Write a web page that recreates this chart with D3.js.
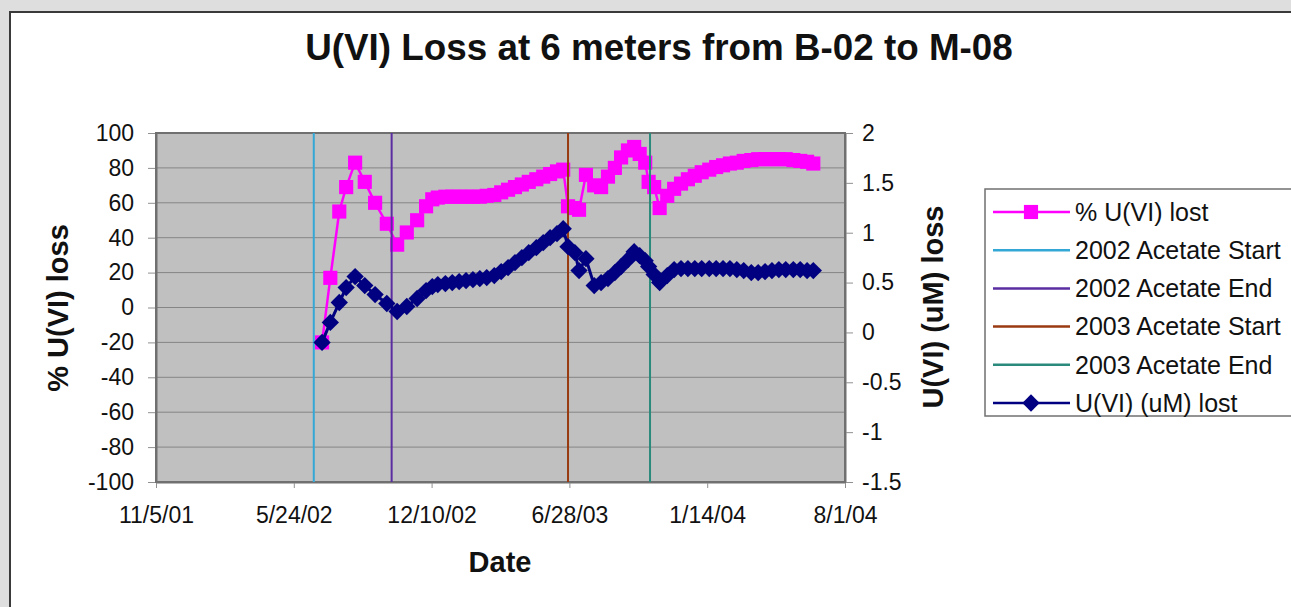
<!DOCTYPE html>
<html>
<head>
<meta charset="utf-8">
<script src="https://cdn.jsdelivr.net/npm/d3@7"></script>
<style>
  body { margin: 0; background: #dedede; }
  svg { display: block; font-family: Arial, "Liberation Sans", sans-serif; }
</style>
</head>
<body>
<script>
const w = 1291;
const h = 607;

// sample dates (m/d/yy)
const dates = [
  "7/4/02", "7/16/02", "7/29/02", "8/8/02", "8/21/02", "9/4/02", "9/19/02", "10/6/02",
  "10/21/02", "11/4/02", "11/19/02", "12/2/02", "12/11/02", "12/19/02", "12/30/02",
  "1/9/03", "1/19/03", "1/29/03", "2/8/03", "2/18/03", "2/28/03", "3/11/03", "3/21/03",
  "3/31/03", "4/10/03", "4/20/03", "4/30/03", "5/11/03", "5/21/03", "5/31/03", "6/10/03",
  "6/19/03", "6/26/03", "7/6/03", "7/12/03", "7/22/03", "8/3/03", "8/13/03", "8/23/03",
  "9/2/03", "9/11/03", "9/21/03", "9/30/03", "10/8/03", "10/16/03", "10/21/03", "10/29/03",
  "11/6/03", "11/17/03", "11/27/03", "12/7/03", "12/17/03", "12/27/03", "1/6/04", "1/17/04",
  "1/27/04", "2/6/04", "2/16/04", "2/26/04", "3/7/04", "3/18/04", "3/28/04", "4/7/04",
  "4/17/04", "4/27/04", "5/7/04", "5/18/04", "5/28/04", "6/7/04", "6/16/04"
];

// % U(VI) lost (left axis)
const pctLost = [
  -20, 17, 55, 69, 83, 72, 60, 48,
  36, 43, 50, 58, 62, 63, 63.5,
  63.5, 63.5, 63.5, 63.5, 63.5, 64, 64.5, 66,
  67.5, 69, 70.5, 72, 73.5, 75, 76.5, 78,
  79, 58, 57, 56, 76, 70, 69, 75,
  80, 86, 90, 92, 88, 83, 72, 69,
  57, 64, 68, 71, 73.5, 75.5, 77.5, 79,
  80.5, 81.5, 82.5, 83, 84, 84.5, 85, 85,
  85, 85, 85, 84.5, 84, 83.5, 82.5
];

// U(VI) (uM) lost (right axis)
const umLost = [
  -0.1, 0.1, 0.3, 0.45, 0.56, 0.47, 0.38, 0.29,
  0.21, 0.26, 0.34, 0.42, 0.46, 0.48, 0.49,
  0.5, 0.51, 0.52, 0.53, 0.54, 0.55, 0.57, 0.61,
  0.65, 0.7, 0.75, 0.8, 0.85, 0.9, 0.95, 0.99,
  1.04, 0.86, 0.8, 0.62, 0.74, 0.47, 0.5, 0.54,
  0.6, 0.66, 0.73, 0.81, 0.77, 0.72, 0.66, 0.58,
  0.5, 0.57, 0.63, 0.64, 0.64, 0.64, 0.64, 0.64,
  0.64, 0.64, 0.64, 0.63, 0.62, 0.6, 0.6, 0.61,
  0.62, 0.63, 0.63, 0.63, 0.63, 0.62, 0.62
];

const eventNames = ["2002 Acetate Start", "2002 Acetate End", "2003 Acetate Start", "2003 Acetate End"];
const eventDates = ["6/22/02", "10/13/02", "6/26/03", "10/23/03"];

const xTickLabels = ["11/5/01", "5/24/02", "12/10/02", "6/28/03", "1/14/04", "8/1/04"];
const leftTicks = [-100, -80, -60, -40, -20, 0, 20, 40, 60, 80, 100];
const rightTicks = [-1.5, -1, -0.5, 0, 0.5, 1, 1.5, 2];

const eventColors = ["#33a8d6", "#5a2da0", "#993a10", "#2a8a7c"];
const pinkColor = "#ff00ff";
const navyColor = "#000080";

const parse = d3.utcParse("%m/%d/%y");

const plot = { left: 156, right: 845, top: 133, bottom: 482 };

const svg = d3.select("body").append("svg")
  .attr("width", w)
  .attr("height", h);

// chart area
svg.append("rect").attr("width", w).attr("height", h).attr("fill", "#dedede");
svg.append("rect")
  .attr("x", 10).attr("y", 12)
  .attr("width", w + 20).attr("height", h + 20)
  .attr("fill", "#ffffff")
  .attr("stroke", "#3a3a3a")
  .attr("stroke-width", 2);

const x = d3.scaleUtc()
  .domain([parse(xTickLabels[0]), parse(xTickLabels[xTickLabels.length - 1])])
  .range([plot.left, plot.right]);
const yL = d3.scaleLinear().domain([-100, 100]).range([plot.bottom, plot.top]);
const yR = d3.scaleLinear().domain([-1.5, 2]).range([plot.bottom, plot.top]);

// plot background
svg.append("rect")
  .attr("x", plot.left).attr("y", plot.top)
  .attr("width", plot.right - plot.left).attr("height", plot.bottom - plot.top)
  .attr("fill", "#c0c0c0");

// gridlines
svg.append("g").selectAll("line")
  .data(leftTicks)
  .join("line")
  .attr("x1", plot.left).attr("x2", plot.right)
  .attr("y1", d => yL(d)).attr("y2", d => yL(d))
  .attr("stroke", "#858585")
  .attr("stroke-width", 1);

// axes
const xAxis = d3.axisBottom(x)
  .tickValues(xTickLabels.map(parse))
  .tickFormat((d, i) => xTickLabels[i])
  .tickSize(6).tickSizeOuter(0).tickPadding(19);
const leftAxis = d3.axisLeft(yL)
  .tickValues(leftTicks).tickFormat(String)
  .tickSize(8).tickSizeOuter(0).tickPadding(14);
const rightAxis = d3.axisRight(yR)
  .tickValues(rightTicks).tickFormat(String)
  .tickSize(8).tickSizeOuter(0).tickPadding(9);

const gx = svg.append("g").attr("transform", "translate(0," + plot.bottom + ")").call(xAxis);
const gl = svg.append("g").attr("transform", "translate(" + plot.left + ",0)").call(leftAxis);
const gr = svg.append("g").attr("transform", "translate(" + plot.right + ",0)").call(rightAxis);

[gx, gl, gr].forEach(g => {
  g.select(".domain").attr("stroke", "#707070").attr("stroke-width", 2);
  g.selectAll(".tick line").attr("stroke", "#909090");
  g.selectAll(".tick text")
    .attr("fill", "#111")
    .attr("font-size", 23)
    .attr("font-family", "Arial, 'Liberation Sans', sans-serif");
});

// plot border
svg.append("rect")
  .attr("x", plot.left).attr("y", plot.top)
  .attr("width", plot.right - plot.left).attr("height", plot.bottom - plot.top)
  .attr("fill", "none")
  .attr("stroke", "#707070")
  .attr("stroke-width", 2);

const pinkData = dates.map((d, i) => ({ date: parse(d), v: pctLost[i] }));
const navyData = dates.map((d, i) => ({ date: parse(d), v: umLost[i] }));

// % U(VI) lost
svg.append("path")
  .datum(pinkData)
  .attr("fill", "none")
  .attr("stroke", pinkColor)
  .attr("stroke-width", 2.5)
  .attr("d", d3.line().x(d => x(d.date)).y(d => yL(d.v)));

svg.append("g").selectAll("path")
  .data(pinkData)
  .join("path")
  .attr("transform", d => "translate(" + x(d.date) + "," + yL(d.v) + ")")
  .attr("d", d3.symbol(d3.symbolSquare, 200))
  .attr("fill", pinkColor);

// acetate start/end lines
svg.append("g").selectAll("line")
  .data(eventDates)
  .join("line")
  .attr("x1", d => x(parse(d))).attr("x2", d => x(parse(d)))
  .attr("y1", yL(-100)).attr("y2", yL(100))
  .attr("stroke", (d, i) => eventColors[i])
  .attr("stroke-width", 2);

// U(VI) (uM) lost
svg.append("path")
  .datum(navyData)
  .attr("fill", "none")
  .attr("stroke", navyColor)
  .attr("stroke-width", 3)
  .attr("d", d3.line().x(d => x(d.date)).y(d => yR(d.v)));

svg.append("g").selectAll("path")
  .data(navyData)
  .join("path")
  .attr("transform", d => "translate(" + x(d.date) + "," + yR(d.v) + ") rotate(45)")
  .attr("d", d3.symbol(d3.symbolSquare, 150))
  .attr("fill", navyColor);

// titles
svg.append("text")
  .attr("x", 659).attr("y", 47)
  .attr("dy", "0.35em")
  .attr("text-anchor", "middle")
  .attr("font-size", 36.8)
  .attr("font-weight", "bold")
  .attr("fill", "#111")
  .text("U(VI) Loss at 6 meters from B-02 to M-08");

svg.append("text")
  .attr("x", 500).attr("y", 562)
  .attr("dy", "0.35em")
  .attr("text-anchor", "middle")
  .attr("font-size", 29)
  .attr("font-weight", "bold")
  .attr("fill", "#111")
  .text("Date");

svg.append("text")
  .attr("transform", "translate(58,308) rotate(-90)")
  .attr("dy", "0.35em")
  .attr("text-anchor", "middle")
  .attr("font-size", 29)
  .attr("font-weight", "bold")
  .attr("fill", "#111")
  .text("% U(VI) loss");

svg.append("text")
  .attr("transform", "translate(933,307) rotate(-90)")
  .attr("dy", "0.35em")
  .attr("text-anchor", "middle")
  .attr("font-size", 29)
  .attr("font-weight", "bold")
  .attr("fill", "#111")
  .text("U(VI) (uM) loss");

// legend
const legendItems = [
  { name: "% U(VI) lost", color: pinkColor, marker: "square" },
  { name: eventNames[0], color: eventColors[0] },
  { name: eventNames[1], color: eventColors[1] },
  { name: eventNames[2], color: eventColors[2] },
  { name: eventNames[3], color: eventColors[3] },
  { name: "U(VI) (uM) lost", color: navyColor, marker: "diamond" }
];

const legend = svg.append("g");
legend.append("rect")
  .attr("x", 985).attr("y", 189)
  .attr("width", 340).attr("height", 227)
  .attr("fill", "#ffffff")
  .attr("stroke", "#707070")
  .attr("stroke-width", 1.5);

const rows = legend.selectAll("g.row")
  .data(legendItems)
  .join("g")
  .attr("class", "row")
  .attr("transform", (d, i) => "translate(0," + (212 + i * 38.2) + ")");

rows.append("line")
  .attr("x1", 993).attr("x2", 1070)
  .attr("stroke", d => d.color)
  .attr("stroke-width", 2.5);

rows.filter(d => d.marker === "square").append("path")
  .attr("transform", "translate(1031,0)")
  .attr("d", d3.symbol(d3.symbolSquare, 200))
  .attr("fill", d => d.color);

rows.filter(d => d.marker === "diamond").append("path")
  .attr("transform", "translate(1031,0) rotate(45)")
  .attr("d", d3.symbol(d3.symbolSquare, 150))
  .attr("fill", d => d.color);

rows.append("text")
  .attr("x", 1075)
  .attr("dy", "0.35em")
  .attr("font-size", 25)
  .attr("fill", "#111")
  .text(d => d.name);
</script>
</body>
</html>
